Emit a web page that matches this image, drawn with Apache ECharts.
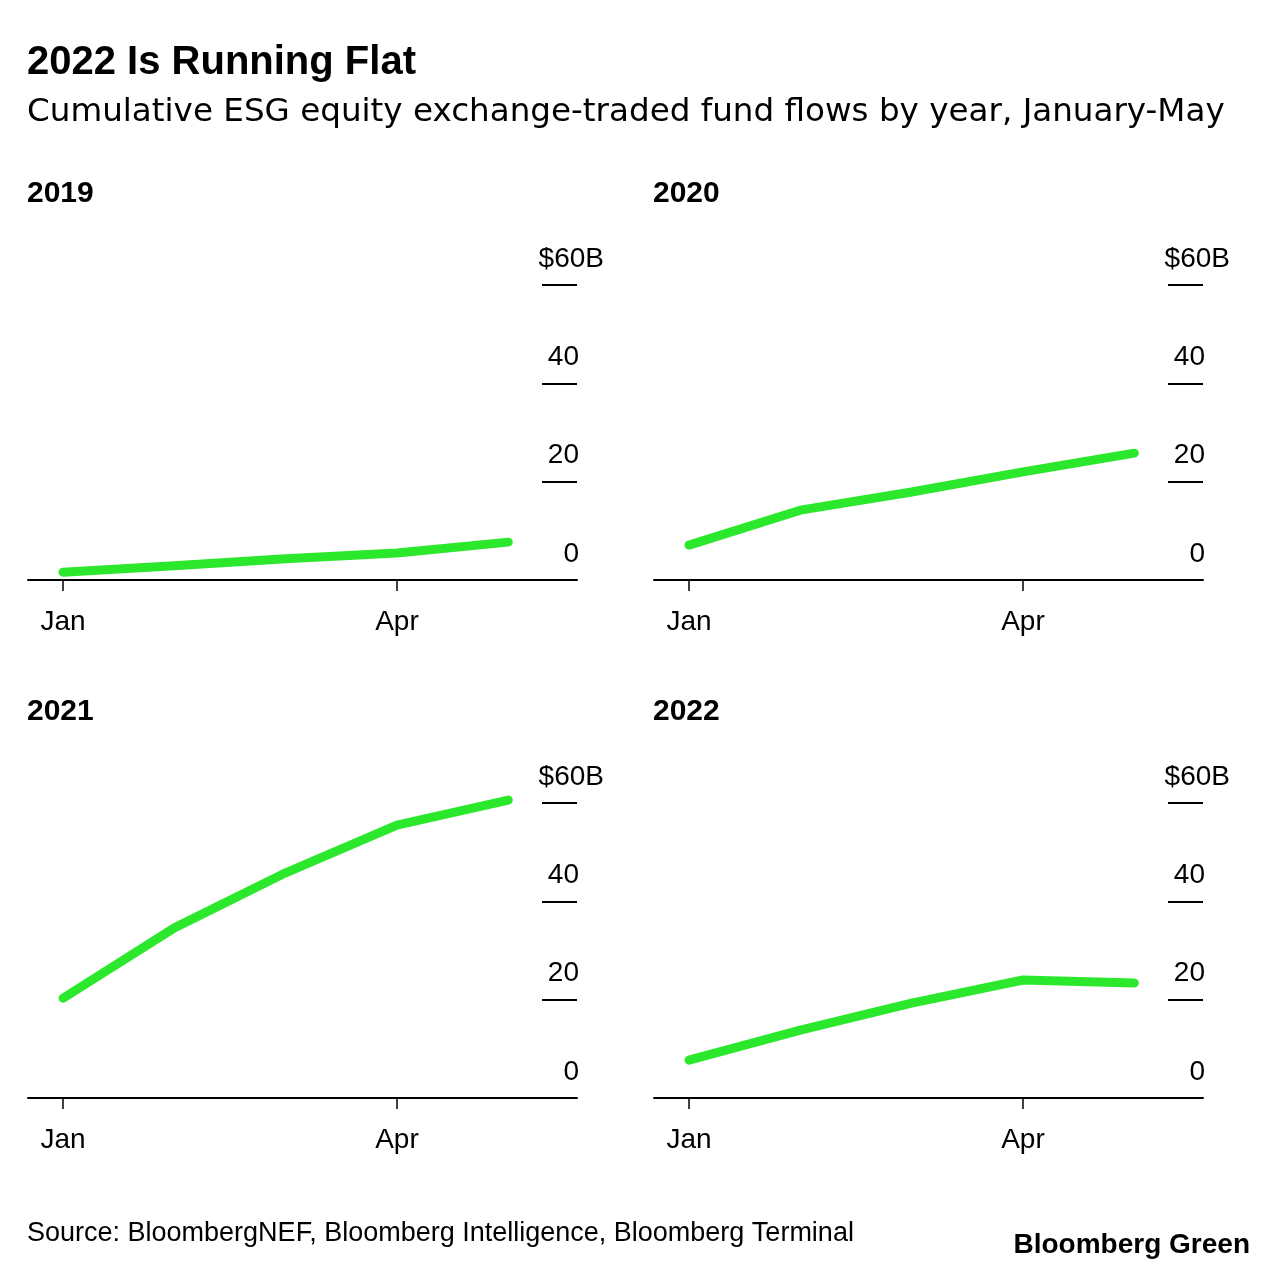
<!DOCTYPE html>
<html>
<head>
<meta charset="utf-8">
<script src="https://cdn.jsdelivr.net/npm/echarts@6/dist/echarts.min.js"></script>
<style>
  html, body { margin: 0; padding: 0; background: #fff; }
  #chart { width: 1280px; height: 1270px; }
</style>
</head>
<body>
<div id="chart"></div>
<script>
// ---- data ----
const months = ['Jan', 'Feb', 'Mar', 'Apr', 'May'];
const monthTickLabels = ['Jan', 'Apr'];
const years = ['2019', '2020', '2021', '2022'];
const flows2019 = [1.6, 2.9, 4.3, 5.5, 7.7];
const flows2020 = [7.1, 14.2, 17.9, 22.0, 25.8];
const flows2021 = [20.3, 34.6, 45.8, 55.5, 60.6];
const flows2022 = [7.7, 13.8, 19.3, 24.0, 23.4];
const seriesValues = [flows2019, flows2020, flows2021, flows2022];

const FONT = '"Liberation Sans", Arial, Helvetica, sans-serif';
const WIDE = '"DejaVu Sans", "Liberation Sans", sans-serif';
const GREEN = '#2ce82c';

const gridPos = [
  { left: 28, width: 549, top: 285, height: 295 },
  { left: 654, width: 549, top: 285, height: 295 },
  { left: 28, width: 549, top: 803, height: 295 },
  { left: 654, width: 549, top: 803, height: 295 }
];

const tickIdx = monthTickLabels.map(m => months.indexOf(m));

const grids = gridPos.map(g => Object.assign({ containLabel: false }, g));
const xAxes = gridPos.map((g, i) => ({
  type: 'value',
  gridIndex: i,
  min: -0.3144,
  max: 4.617,
  axisLine: { show: true, onZero: false, lineStyle: { color: '#000', width: 2 } },
  axisTick: { show: true, customValues: tickIdx, length: 11, lineStyle: { color: '#000', width: 1.5 } },
  axisLabel: {
    show: true, customValues: tickIdx,
    formatter: v => months[Math.round(v)],
    fontFamily: FONT, fontSize: 28, color: '#000', margin: 28
  },
  splitLine: { show: false }
}));
const yAxes = gridPos.map((g, i) => ({
  type: 'value',
  gridIndex: i,
  position: 'right',
  min: 0,
  max: 60,
  interval: 20,
  axisLine: { show: false, onZero: false },
  axisTick: { show: true, inside: true, length: 35, lineStyle: { color: '#000', width: 2 } },
  axisLabel: {
    show: true, inside: true, margin: -27,
    verticalAlign: 'bottom',
    padding: [0, 0, 12, 0],
    formatter: v => v === 60 ? '{n|$60B}' : '{n|' + v + '}{s| }',
    rich: {
      n: { fontFamily: FONT, fontSize: 28, color: '#000' },
      s: { fontFamily: FONT, fontSize: 28, width: 25 }
    }
  },
  splitLine: { show: false }
}));
const series = seriesValues.map((vals, i) => ({
  type: 'line',
  xAxisIndex: i,
  yAxisIndex: i,
  data: vals.map((v, k) => [k, v]),
  showSymbol: false,
  clip: false,
  lineStyle: { color: GREEN, width: 9, cap: 'round', join: 'round' },
  silent: true
}));

const titles = [
  { text: '2022 Is Running Flat', left: 27, top: 43, textStyle: { fontFamily: FONT, fontSize: 40, fontWeight: 'bold', color: '#000' } },
  { text: 'Cumulative ESG equity exchange-traded fund flows by year, January-May', left: 27, top: 96, textStyle: { fontFamily: WIDE, fontSize: 32.6, fontWeight: 'normal', color: '#000' } },
  { text: years[0], left: 27, top: 179, textStyle: { fontFamily: FONT, fontSize: 30, fontWeight: 'bold', color: '#000' } },
  { text: years[1], left: 653, top: 179, textStyle: { fontFamily: FONT, fontSize: 30, fontWeight: 'bold', color: '#000' } },
  { text: years[2], left: 27, top: 697, textStyle: { fontFamily: FONT, fontSize: 30, fontWeight: 'bold', color: '#000' } },
  { text: years[3], left: 653, top: 697, textStyle: { fontFamily: FONT, fontSize: 30, fontWeight: 'bold', color: '#000' } },
  { text: 'Source: BloombergNEF, Bloomberg Intelligence, Bloomberg Terminal', left: 27, top: 1220, textStyle: { fontFamily: FONT, fontSize: 27, fontWeight: 'normal', color: '#000' } },
  { text: 'Bloomberg Green', right: 30, top: 1231, textStyle: { fontFamily: FONT, fontSize: 28, fontWeight: 'bold', color: '#000' } }
].map(t => Object.assign({ padding: 0, itemGap: 0 }, t));

const chart = echarts.init(document.getElementById('chart'), null, { renderer: 'canvas' });
chart.setOption({
  backgroundColor: '#fff',
  animation: false,
  title: titles,
  grid: grids,
  xAxis: xAxes,
  yAxis: yAxes,
  series: series
});
</script>
</body>
</html>
